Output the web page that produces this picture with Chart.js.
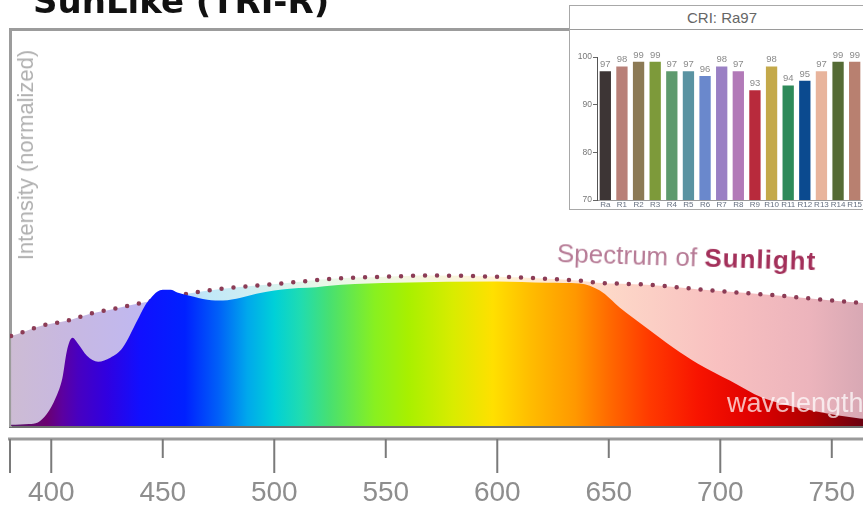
<!DOCTYPE html>
<html>
<head>
<meta charset="utf-8">
<script src="https://cdn.jsdelivr.net/npm/chart.js@4.4.1/dist/chart.umd.min.js"></script>
<style>
  body { margin: 0; width: 863px; height: 511px; overflow: hidden; background: #fff; position: relative; font-family: 'Liberation Sans', Arial, sans-serif; }
  #spectrum { position: absolute; left: 0; top: 0; }
  .title { position: absolute; left: 33px; top: -16px; font: bold 34px/34px 'DejaVu Sans', sans-serif; color: #111; white-space: nowrap; }
  .ylabel { position: absolute; left: 26px; top: 155px; transform: translate(-50%, -50%) rotate(-90deg); font-size: 22px; color: #b0b0b0; white-space: nowrap; }
  .sun { position: absolute; left: 557px; top: 240px; font-size: 26px; line-height: 26px; color: #b67a95; white-space: nowrap; transform: rotate(1.8deg); transform-origin: left center; }
  .sun b { color: #a3305a; letter-spacing: 1px; }
  .wave { position: absolute; left: 727px; top: 390px; font-size: 27px; line-height: 27px; color: rgba(255,255,255,0.72); white-space: nowrap; }
  .inset { position: absolute; left: 569px; top: 5px; width: 306px; height: 205px; border: 1px solid #a8a8a8; box-sizing: border-box; background: #fff; }
  .inset .head { height: 23px; border-bottom: 1px solid #9a9a9a; text-align: center; width: 304px; font-size: 15px; line-height: 23px; color: #666; }
  #cri { position: absolute; left: 0; top: 24px; }
</style>
</head>
<body>
<canvas id="spectrum" width="863" height="511"></canvas>
<div class="title">SunLike (TRI-R)</div>
<div class="ylabel">Intensity (normalized)</div>
<div class="sun">Spectrum of <b>Sunlight</b></div>
<div class="wave">wavelength</div>
<div class="inset">
  <div class="head">CRI: Ra97</div>
  <canvas id="cri" width="293" height="180"></canvas>
</div>
<script>
// SunLike LED spectrum (0-100 = plot height)
const ledWavelength = [382, 390, 394, 398, 402, 405, 407, 409.5, 412, 416, 421, 426.5, 432, 438.5, 442, 444.5, 447.5, 450, 453.5, 456.5, 462, 470, 477, 485, 492, 500, 507, 515, 530, 555, 600, 622, 637, 646, 655, 667, 679, 690, 704.5, 719, 742, 761, 764];
const ledIntensity = [0.3, 0.5, 0.9, 3.0, 7.1, 12.1, 18.9, 22.2, 20.7, 17.7, 16.2, 17.2, 19.7, 26.5, 30.3, 32.1, 33.8, 34.3, 34.3, 33.6, 32.8, 31.8, 31.6, 32.3, 33.3, 34.1, 34.6, 34.8, 35.6, 36.1, 36.4, 36.1, 35.9, 34.1, 29.8, 24.7, 19.7, 15.7, 11.4, 7.1, 3.8, 2.0, 1.8];

// sunlight reference (dotted)
const sunWavelength = [382, 385, 396, 407, 417.5, 428, 438.5, 450, 461, 477, 492, 507, 526, 550, 570, 600, 622, 637, 645, 667, 697, 727, 761, 764];
const sunIntensity = [22.7, 23.2, 25.3, 26.5, 28.3, 29.5, 30.8, 32.0, 33.3, 34.6, 35.4, 36.1, 37.1, 37.6, 37.9, 37.6, 37.1, 36.6, 36.1, 35.6, 34.1, 32.8, 31.1, 31.0];

const wavelengthTicks = [400, 450, 500, 550, 600, 650, 700, 750];

// CRI inset
const criLabels = ['Ra', 'R1', 'R2', 'R3', 'R4', 'R5', 'R6', 'R7', 'R8', 'R9', 'R10', 'R11', 'R12', 'R13', 'R14', 'R15'];
const criValues = [97, 98, 99, 99, 97, 97, 96, 98, 97, 93, 98, 94, 95, 97, 99, 99];

const barColors = ['#3d3535', '#b88078', '#8c7a55', '#7d9a3a', '#5e9a6e', '#5a93a2', '#6a88cc', '#9a80c4',
                   '#b27ab8', '#b82a3c', '#c4a94a', '#2e8a5a', '#0b4a8f', '#e8b49c', '#556b35', '#b88070'];

// colour stops by wavelength
const ledStops = [[382, '#5a1a6a'], [398, '#6a0070'], [405, '#5c00a0'], [412, '#4800c0'], [425, '#3000e0'],
  [440, '#1010ff'], [460, '#0020ff'], [475, '#0060f8'], [488, '#00a8ec'], [500, '#00d0d8'], [512, '#20dcb0'],
  [525, '#48e070'], [545, '#88f020'], [560, '#a8f000'], [580, '#d8ec00'], [598, '#ffe000'], [615, '#ffbc00'],
  [635, '#ff9800'], [650, '#ff6a00'], [668, '#ff3a00'], [690, '#f81400'], [715, '#e00000'], [740, '#b00000'], [764, '#6a0010']];
const sunStops = [[382, '#cdbcd4'], [405, '#c8b8e0'], [440, '#c0b8f0'], [470, '#c0e8f8'], [520, '#e8f8e8'],
  [600, '#fff4d8'], [650, '#fdd8c8'], [700, '#f8c0c0'], [740, '#ecb4bc'], [764, '#d8a8b4']];

function spectrumGradient(chart, stops) {
  const x = chart.scales.x;
  if (!x || !chart.chartArea) return null;
  const lo = stops[0][0], hi = stops[stops.length - 1][0];
  const g = chart.ctx.createLinearGradient(x.getPixelForValue(lo), 0, x.getPixelForValue(hi), 0);
  stops.forEach(s => g.addColorStop((s[0] - lo) / (hi - lo), s[1]));
  return g;
}

// wavelength ruler under the plot
const ruler = {
  id: 'ruler',
  afterDraw(chart) {
    const ctx = chart.ctx, x = chart.scales.x;
    const y0 = x.top + 13;
    ctx.save();
    ctx.strokeStyle = '#9a9a9a';
    ctx.lineWidth = 3;
    ctx.beginPath();
    ctx.moveTo(x.left - 2, y0);
    ctx.lineTo(x.right, y0);
    ctx.stroke();
    ctx.strokeStyle = '#7a7a7a';
    ctx.lineWidth = 2;
    const marks = [{ value: x.min }].concat(x.ticks);
    marks.forEach(t => {
      const px = t.value === x.min ? x.left : x.getPixelForValue(t.value);
      const len = (t.value === x.min || t.value % 100 === 0) ? 34 : 19;
      ctx.beginPath();
      ctx.moveTo(px, y0);
      ctx.lineTo(px, y0 + len);
      ctx.stroke();
    });
    ctx.restore();
  }
};

new Chart(document.getElementById('spectrum'), {
  type: 'line',
  data: {
    datasets: [{
      label: 'SunLike',
      data: ledWavelength.map((w, i) => ({ x: w, y: ledIntensity[i] })),
      borderColor: 'transparent',
      borderWidth: 0,
      pointRadius: 0,
      cubicInterpolationMode: 'monotone',
      fill: 'origin',
      backgroundColor: c => spectrumGradient(c.chart, ledStops)
    }, {
      label: 'Sunlight',
      data: sunWavelength.map((w, i) => ({ x: w, y: sunIntensity[i] })),
      borderColor: '#8c3c56',
      borderWidth: 4.5,
      borderDash: [0, 12],
      borderCapStyle: 'round',
      pointRadius: 0,
      cubicInterpolationMode: 'monotone',
      fill: 'origin',
      backgroundColor: c => spectrumGradient(c.chart, sunStops)
    }]
  },
  options: {
    responsive: false,
    animation: false,
    layout: { padding: { left: 10, top: 29, right: 0, bottom: 0 } },
    plugins: { legend: { display: false }, tooltip: { enabled: false } },
    scales: {
      x: {
        type: 'linear', min: 381.5, max: 764,
        grid: { display: false, drawTicks: false },
        border: { display: true, color: '#6e6e6e', width: 3 },
        afterBuildTicks: s => { s.ticks = wavelengthTicks.map(v => ({ value: v })); },
        ticks: { padding: 50, color: '#8e8e8e', font: { size: 28, family: 'Liberation Sans' }, maxRotation: 0, autoSkip: false },
        afterFit: s => { s.height = 85; s.paddingLeft = 0; s.paddingRight = 0; }
      },
      xTop: {
        type: 'linear', position: 'top', min: 381.5, max: 764,
        grid: { display: false, drawTicks: false },
        border: { display: true, color: '#9c9c9c', width: 3 },
        ticks: { display: false }
      },
      y: {
        min: 0, max: 100,
        grid: { display: false, drawTicks: false },
        border: { display: true, color: '#9c9c9c', width: 3 },
        ticks: { display: false }
      }
    }
  },
  plugins: [ruler]
});

const valueLabels = {
  id: 'valueLabels',
  afterDatasetsDraw(chart) {
    const ctx = chart.ctx;
    const ds = chart.data.datasets[0];
    ctx.save();
    ctx.font = '9.5px "Liberation Sans"';
    ctx.fillStyle = '#8a8a8a';
    ctx.textAlign = 'center';
    ctx.textBaseline = 'bottom';
    chart.getDatasetMeta(0).data.forEach((bar, i) => ctx.fillText(ds.data[i], bar.x, bar.y - 2));
    ctx.restore();
  }
};

new Chart(document.getElementById('cri'), {
  type: 'bar',
  data: {
    labels: criLabels,
    datasets: [{ data: criValues, backgroundColor: barColors, barPercentage: 0.68, categoryPercentage: 1 }]
  },
  options: {
    responsive: false,
    animation: false,
    layout: { padding: { top: 27, left: 0, right: 0, bottom: 0 } },
    plugins: { legend: { display: false }, tooltip: { enabled: false } },
    scales: {
      x: {
        grid: { display: false, drawTicks: false },
        border: { color: '#999' },
        ticks: { padding: 0, color: '#667080', font: { size: 8 }, maxRotation: 0, autoSkip: false },
        afterFit: s => { s.height = 10; }
      },
      y: {
        min: 70, max: 100,
        grid: { drawOnChartArea: false, tickLength: 4, color: '#666' },
        border: { color: '#555' },
        ticks: { stepSize: 10, padding: 1, color: '#777', font: { size: 8.5 } },
        afterFit: s => { s.width = 27; }
      }
    }
  },
  plugins: [valueLabels]
});
</script>
</body>
</html>
